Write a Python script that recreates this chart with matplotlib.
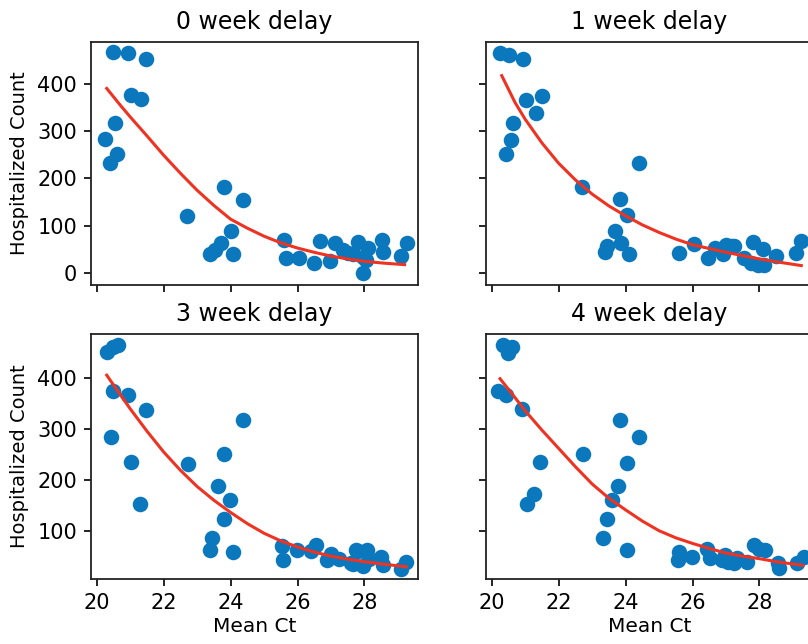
#!/usr/bin/env python

# Hospitalized count vs mean Ct, 4 delay panels with exponential fit lines

import matplotlib
matplotlib.use('Agg')
import matplotlib.pyplot as plt

titles = ['0 week delay', '1 week delay', '3 week delay', '4 week delay']

# 0 week delay
ct_0wk = [20.49, 20.94, 21.46, 21.02, 21.32, 20.54, 20.26, 20.62, 20.40, 22.71, 23.81, 24.37,
          23.38, 23.52, 23.72, 24.08, 24.00, 25.59, 25.66, 26.05, 26.48, 26.66, 26.97, 27.13,
          27.35, 27.50, 27.66, 27.82, 27.97, 28.05, 28.12, 27.95, 28.53, 28.56, 29.10, 29.27]
hosp_0wk = [467, 465, 453, 376, 368, 316, 284, 252, 233, 121, 182, 155,
            40, 48, 63, 40, 88, 70, 33, 32, 21, 67, 26, 63,
            49, 42, 40, 66, 35, 28, 53, 0, 70, 44, 37, 63]
fit_ct_0wk = [20.3, 20.7, 21, 21.5, 22, 22.5, 23, 23.5, 24, 24.5, 25, 25.5, 26, 26.5, 27, 27.5, 28, 28.6, 29.2]
fit_0wk = [390, 355, 330, 290, 249, 211, 175, 143, 114, 95, 78, 64, 53, 44, 36, 30, 25, 21, 18]

# 1 week delay
ct_1wk = [20.26, 20.53, 20.95, 21.02, 21.49, 21.32, 20.63, 20.58, 20.43, 24.40, 22.71, 23.83,
          24.03, 23.67, 23.45, 23.85, 23.40, 24.10, 25.60, 26.05, 26.45, 26.66, 26.90, 27.00,
          27.16, 27.25, 27.55, 27.75, 27.80, 27.95, 28.12, 28.15, 28.50, 29.10, 29.25]
hosp_1wk = [465, 461, 452, 366, 373, 338, 316, 282, 251, 232, 182, 156,
            123, 88, 58, 64, 44, 41, 43, 62, 33, 54, 40, 60,
            57, 58, 31, 22, 66, 17, 50, 17, 37, 43, 67]
fit_ct_1wk = [20.3, 20.7, 21, 21.5, 22, 22.5, 23, 23.5, 24, 24.5, 25, 25.5, 26, 26.5, 27, 27.5, 28, 28.6, 29.25]
fit_1wk = [417, 360, 325, 275, 232, 197, 167, 142, 121, 102, 86, 72, 60, 52, 44, 37, 30, 23, 16]

# 3 week delay
ct_3wk = [20.30, 20.50, 20.65, 20.48, 20.95, 21.47, 20.44, 21.03, 21.30, 22.72, 24.37, 23.81,
          23.63, 23.98, 23.81, 23.45, 23.38, 24.06, 25.53, 25.57, 25.97, 26.39, 26.55, 26.87,
          27.01, 27.24, 27.61, 27.65, 27.76, 27.80, 27.95, 28.07, 28.15, 28.50, 28.55, 29.10, 29.25]
hosp_3wk = [452, 462, 466, 374, 367, 338, 285, 235, 152, 231, 317, 251,
            187, 160, 124, 86, 62, 59, 69, 42, 63, 61, 72, 42,
            54, 44, 37, 35, 62, 60, 30, 62, 45, 49, 32, 24, 39]
fit_ct_3wk = [20.3, 20.7, 21, 21.5, 22, 22.5, 23, 23.5, 24, 24.5, 25, 25.5, 26, 26.5, 27, 27.5, 28, 28.6, 29.25]
fit_3wk = [406, 368, 340, 296, 255, 219, 187, 160, 136, 114, 95, 80, 68, 58, 50, 44, 39, 34, 29]

# 4 week delay
ct_4wk = [20.35, 20.60, 20.50, 20.19, 20.43, 20.90, 21.44, 21.27, 21.05, 22.72, 23.83, 24.40,
          24.03, 23.78, 23.60, 23.44, 23.34, 24.05, 25.59, 25.57, 25.97, 26.42, 26.52, 26.87,
          26.97, 27.05, 27.25, 27.32, 27.62, 27.85, 28.00, 28.17, 28.55, 28.57, 29.12, 29.32]
hosp_4wk = [466, 462, 450, 374, 367, 339, 235, 172, 152, 251, 317, 284,
            233, 188, 160, 124, 86, 62, 59, 42, 49, 65, 46, 42,
            52, 38, 36, 46, 39, 72, 65, 62, 36, 26, 36, 48]
fit_ct_4wk = [20.25, 20.6, 21, 21.5, 22, 22.5, 23, 23.5, 24, 24.5, 25, 25.5, 26, 26.5, 27, 27.5, 28, 28.6, 29.3]
fit_4wk = [399, 370, 336, 298, 262, 226, 192, 164, 141, 119, 100, 86, 75, 65, 56, 50, 45, 38, 32]

panels = [(ct_0wk, hosp_0wk, fit_ct_0wk, fit_0wk),
          (ct_1wk, hosp_1wk, fit_ct_1wk, fit_1wk),
          (ct_3wk, hosp_3wk, fit_ct_3wk, fit_3wk),
          (ct_4wk, hosp_4wk, fit_ct_4wk, fit_4wk)]

W, H = 808, 644
fig, axs = plt.subplots(2, 2, figsize=(W/100, H/100), dpi=100, sharex=True, sharey='row')
axs = axs.ravel()

# axes boxes in pixels (left, top, right, bottom); right column runs off the page
boxes = [(91, 42, 418, 285), (486, 42, 813, 285),
         (91, 334, 418, 579), (486, 334, 813, 579)]

for i, ax in enumerate(axs):
    l, t, r, b = boxes[i]
    ax.set_position([l/W, 1 - b/H, (r - l)/W, (b - t)/H])
    ct, hosp, fct, fy = panels[i]
    ax.scatter(ct, hosp, s=125, color='#0b78bd', linewidths=0, zorder=2)
    ax.plot(fct, fy, color='#ee3322', lw=2.2, zorder=3)
    ax.set_title(titles[i], fontsize=17, pad=9)
    ax.tick_params(labelsize=15, length=5, width=1.2, pad=5)
    for sp in ax.spines.values():
        sp.set_linewidth(1.3)
        sp.set_color('#222222')
    if i % 2 == 0:
        ax.set_ylabel('Hospitalized Count', fontsize=14, labelpad=6)
    if i >= 2:
        ax.set_xlabel('Mean Ct', fontsize=14.5, labelpad=3)

axs[0].set_xlim(19.83, 29.6)
axs[0].set_xticks([20, 22, 24, 26, 28])
axs[0].set_ylim(-25, 488)
axs[0].set_yticks([0, 100, 200, 300, 400])
axs[2].set_ylim(5, 487)
axs[2].set_yticks([100, 200, 300, 400])

fig.savefig('out.png', dpi=100)
